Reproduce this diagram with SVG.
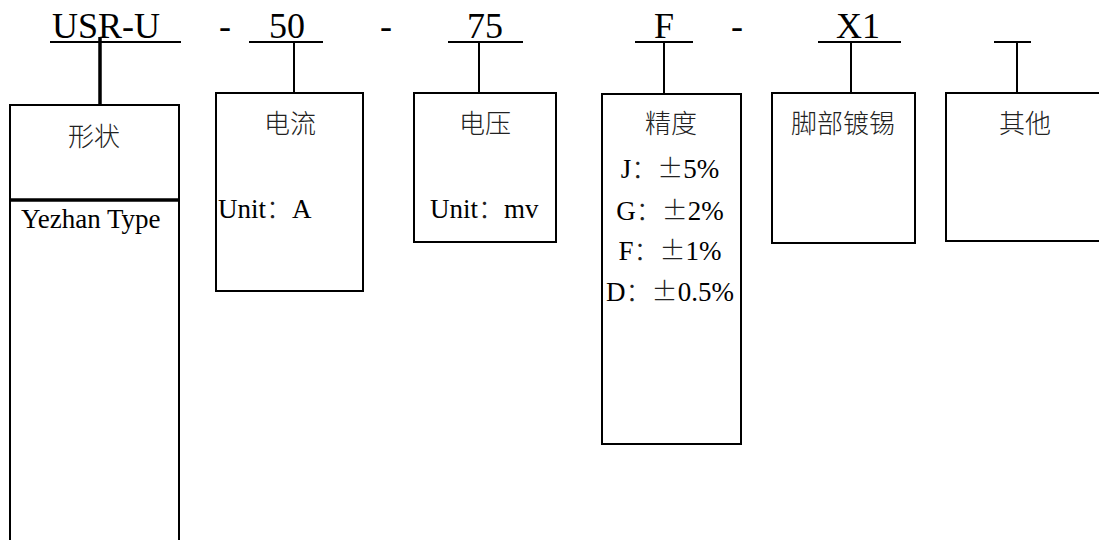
<svg xmlns="http://www.w3.org/2000/svg" width="1099" height="540" viewBox="0 0 1099 540">
<style>
.hd{font-family:"Liberation Serif",serif;font-size:36px;fill:#000}
.t{font-family:"Liberation Serif",serif;font-size:27px;fill:#000}
.c{font-family:"Noto Sans CJK SC",sans-serif;font-size:26px;font-weight:300;fill:#222}
.box{fill:#fff;stroke:#000;stroke-width:2}
.ln{stroke:#000;stroke-width:2;fill:none}
.thick{stroke:#000;stroke-width:3.5;fill:none}
</style>
<rect width="1099" height="540" fill="#fff"/>
<g id="header">
<text class="hd" x="52" y="38">USR-U</text>
<text class="hd" x="219" y="38">-</text>
<text class="hd" x="269" y="38">50</text>
<text class="hd" x="380" y="38">-</text>
<text class="hd" x="467" y="38">75</text>
<text class="hd" x="654" y="38">F</text>
<text class="hd" x="731" y="38">-</text>
<text class="hd" x="836" y="38">X1</text>
</g>
<g id="connectors">
<line class="ln" x1="50" y1="42" x2="181" y2="42"/>
<line class="ln" x1="249" y1="42" x2="323" y2="42"/>
<line class="ln" x1="448" y1="42" x2="523" y2="42"/>
<line class="ln" x1="635" y1="42" x2="693" y2="42"/>
<line class="ln" x1="818" y1="42" x2="901" y2="42"/>
<line class="ln" x1="994" y1="42" x2="1031" y2="42"/>
<line class="thick" x1="100" y1="37" x2="100" y2="105"/>
<line class="ln" x1="294" y1="42" x2="294" y2="93"/>
<line class="ln" x1="479" y1="42" x2="479" y2="97"/>
<line class="ln" x1="664" y1="42" x2="664" y2="97"/>
<line class="ln" x1="851" y1="42" x2="851" y2="97"/>
<line class="ln" x1="1017" y1="42" x2="1017" y2="93"/>
</g>
<g id="node-shape">
<rect class="box" x="10" y="105" width="169" height="445"/>
<line class="thick" x1="10" y1="200" x2="179" y2="200"/>
<text class="c" x="94" y="146" text-anchor="middle">形状</text>
<text class="t" x="21" y="228">Yezhan Type</text>
</g>
<g id="node-current">
<rect class="box" x="216" y="93" width="147" height="198"/>
<text class="c" x="290" y="133" text-anchor="middle">电流</text>
<text x="218" y="218"><tspan class="t">Unit</tspan><tspan class="c">：</tspan><tspan class="t">A</tspan></text>
</g>
<g id="node-voltage">
<rect class="box" x="414" y="93" width="142" height="149"/>
<text class="c" x="485" y="133" text-anchor="middle">电压</text>
<text x="430" y="218"><tspan class="t">Unit</tspan><tspan class="c">：</tspan><tspan class="t">mv</tspan></text>
</g>
<g id="node-accuracy">
<rect class="box" x="602" y="94" width="139" height="350"/>
<text class="c" x="671" y="133" text-anchor="middle">精度</text>
<text x="670" y="178" text-anchor="middle"><tspan class="t">J</tspan><tspan class="c">：±</tspan><tspan class="t">5%</tspan></text>
<text x="670" y="220" text-anchor="middle"><tspan class="t">G</tspan><tspan class="c">：±</tspan><tspan class="t">2%</tspan></text>
<text x="670" y="260" text-anchor="middle"><tspan class="t">F</tspan><tspan class="c">：±</tspan><tspan class="t">1%</tspan></text>
<text x="670" y="301" text-anchor="middle"><tspan class="t">D</tspan><tspan class="c">：±</tspan><tspan class="t">0.5%</tspan></text>
</g>
<g id="node-tin">
<rect class="box" x="772" y="93" width="143" height="150"/>
<text class="c" x="843" y="133" text-anchor="middle">脚部镀锡</text>
</g>
<g id="node-other">
<rect class="box" x="946" y="93" width="160" height="148"/>
<text class="c" x="1025" y="133" text-anchor="middle">其他</text>
</g>
</svg>
